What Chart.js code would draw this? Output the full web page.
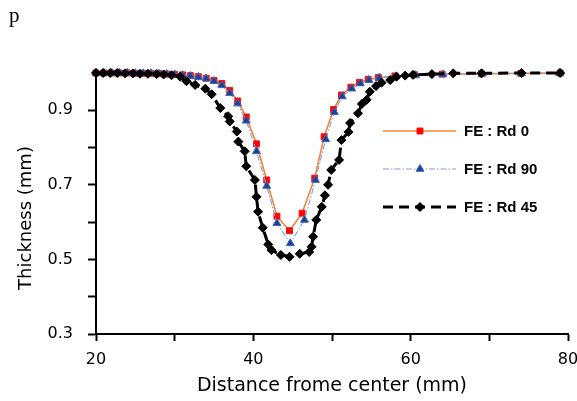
<!DOCTYPE html>
<html><head><meta charset="utf-8">
<script src="https://cdn.jsdelivr.net/npm/chart.js@4"></script>
<style>html,body{margin:0;padding:0;background:#fff;overflow:hidden}</style>
</head><body>
<canvas id="c" width="577" height="401" style="display:block;width:577px;height:401px"></canvas>
<script>
// ---- data ----
const seriesNames = ['FE : Rd 0', 'FE : Rd 90', 'FE : Rd 45'];
const xTickLabels = [20, 40, 60, 80];
const yTickLabels = [0.3, 0.5, 0.7, 0.9];

const rd0X = [20,21,22,23,24,25,26,27,28,29,30,31,32,33,34,35,36,37,38,39.1,40.4,41.7,43.0,44.6,46.2,47.8,49.0,50.2,51.2,52.4,53.5,54.6,55.9,58.0,60.5,64.0,69.0,74.0,79.0];
const rd0Y = [1.0,1.0,1.0,1.0,1.0,0.999,0.999,0.999,0.998,0.997,0.996,0.995,0.993,0.990,0.986,0.980,0.972,0.953,0.925,0.882,0.810,0.713,0.616,0.577,0.624,0.718,0.829,0.902,0.941,0.962,0.975,0.983,0.988,0.992,0.995,0.997,0.998,0.999,1.0];

const rd90X = [20,21,22,23,24,25,26,27,28,29,30,31,32,33,34,35,36,37,38,39.1,40.4,41.7,43.0,44.7,46.5,47.9,49.2,50.3,51.3,52.5,53.6,54.7,56.0,58.1,60.6,64.1,69.1,74.1,78.9];
const rd90Y = [1.0,1.0,1.0,1.0,1.0,0.999,0.999,0.999,0.998,0.997,0.996,0.994,0.992,0.989,0.985,0.978,0.967,0.946,0.918,0.872,0.790,0.697,0.597,0.543,0.606,0.713,0.822,0.895,0.937,0.958,0.972,0.981,0.987,0.991,0.994,0.996,0.998,0.999,1.0];

const rd45X = [20,20.9,21.8,22.7,23.7,24.7,25.6,26.6,27.7,28.6,29.6,30.7,31.5,32.6,33.9,34.7,35.8,36.8,37.0,37.9,38.1,38.9,39.1,40.2,40.4,40.6,41.2,41.9,42.3,43.5,44.6,45.9,47.1,47.4,47.6,48.0,48.7,49.1,49.5,49.9,50.9,51.2,52.1,52.3,53.3,53.8,54.4,54.8,55.6,56.3,57.4,58.2,59.3,60.3,62.7,65.4,69.0,74.1,79.0];
const rd45Y = [1.0,1.0,1.0,1.0,0.999,0.999,0.998,0.998,0.997,0.996,0.994,0.990,0.978,0.968,0.958,0.943,0.906,0.884,0.870,0.843,0.816,0.790,0.750,0.713,0.668,0.628,0.585,0.540,0.525,0.512,0.507,0.515,0.520,0.534,0.561,0.606,0.641,0.672,0.700,0.740,0.767,0.820,0.842,0.866,0.892,0.917,0.928,0.950,0.965,0.974,0.981,0.990,0.993,0.995,0.997,0.999,0.999,1.0,1.0];

const pts = (xs, ys) => xs.map((x, i) => ({x, y: ys[i]}));

const styles = [
  {line:'#F0843C', width:1.6, dash:[], point:'rect', radius:4.2, fill:'#FF0000', border:'#FF1010'},
  {line:'#7FA0DC', width:1.1, dash:[6,2,1.5,2], point:'triangle', radius:4.6, fill:'#1F3F8F', border:'#3D66B8'},
  {line:'#000000', width:3, dash:[10,6], point:'rectRot', radius:4.5, fill:'#000000', border:'#000000'}
];
const dataSets = [pts(rd0X, rd0Y), pts(rd90X, rd90Y), pts(rd45X, rd45Y)];

const datasets = dataSets.map((d, i) => ({
  label: seriesNames[i],
  data: d,
  showLine: true,
  borderColor: styles[i].line,
  borderWidth: styles[i].width,
  borderDash: styles[i].dash,
  pointStyle: styles[i].point,
  pointRadius: styles[i].radius,
  pointBackgroundColor: styles[i].fill,
  pointBorderColor: styles[i].border,
  pointBorderWidth: 1,
  tension: 0,
  clip: false,
  order: 3 - i
}));

function marker(ctx, s, x, y) {
  ctx.save();
  ctx.fillStyle = s.fill; ctx.strokeStyle = s.border; ctx.lineWidth = 1; ctx.setLineDash([]);
  ctx.beginPath();
  const r = s.radius;
  if (s.point === 'rect') {
    const h = r * Math.SQRT1_2;
    ctx.rect(x - h, y - h, 2*h, 2*h);
  } else if (s.point === 'triangle') {
    ctx.moveTo(x, y - r);
    ctx.lineTo(x + r*0.866, y + r*0.5);
    ctx.lineTo(x - r*0.866, y + r*0.5);
    ctx.closePath();
  } else {
    ctx.moveTo(x, y - r); ctx.lineTo(x + r, y); ctx.lineTo(x, y + r); ctx.lineTo(x - r, y); ctx.closePath();
  }
  ctx.fill(); ctx.stroke();
  ctx.restore();
}

const extras = {
  id: 'extras',
  afterDraw(chart) {
    const ctx = chart.ctx;
    ctx.save();
    ctx.fillStyle = '#000';
    ctx.font = '21px "Liberation Serif"';
    ctx.textAlign = 'left'; ctx.textBaseline = 'alphabetic';
    ctx.fillText('p', 9, 22);
    ctx.save();
    ctx.translate(26, 218); ctx.rotate(-Math.PI/2);
    ctx.font = '18px "DejaVu Sans"'; ctx.textAlign = 'center'; ctx.textBaseline = 'middle';
    ctx.fillText('Thickness (mm)', 0, 0);
    ctx.restore();
    // legend
    const rows = [131, 169, 207];
    rows.forEach((ry, i) => {
      const s = styles[i];
      ctx.save();
      ctx.strokeStyle = s.line; ctx.lineWidth = s.width; ctx.setLineDash(s.dash);
      ctx.beginPath(); ctx.moveTo(383, ry); ctx.lineTo(456, ry); ctx.stroke();
      ctx.restore();
      marker(ctx, s, 420, ry);
      ctx.fillStyle = '#000';
      ctx.font = 'bold 15px "Liberation Sans"';
      ctx.textAlign = 'left'; ctx.textBaseline = 'middle';
      ctx.fillText(seriesNames[i], 464, ry + 1);
    });
    ctx.restore();
  }
};

const near = (a, b) => Math.abs(a - b) < 1e-6;

new Chart(document.getElementById('c'), {
  type: 'scatter',
  data: { datasets },
  options: {
    responsive: false,
    animation: false,
    devicePixelRatio: 1,
    layout: { padding: { top: 73, right: 9, left: 0, bottom: 0 } },
    plugins: { legend: { display: false }, tooltip: { enabled: false } },
    scales: {
      x: {
        type: 'linear', min: 20, max: 80,
        border: { display: true, color: '#000', width: 2 },
        grid: { display: true, drawOnChartArea: false, drawTicks: true, tickLength: 7, tickColor: '#000', tickWidth: 2 },
        ticks: {
          stepSize: 10, autoSkip: false, maxRotation: 0, padding: 9, color: '#000',
          font: { family: '"DejaVu Sans"', size: 16 },
          callback: v => xTickLabels.some(t => near(t, v)) ? String(Math.round(v)) : ''
        },
        title: { display: true, text: 'Distance frome center (mm)', color: '#000',
          font: { family: '"DejaVu Sans"', size: 19 }, padding: { top: 0, bottom: 4 } },
        afterFit: s => { s.height = 67; s.paddingLeft = 0; s.paddingRight = 0; }
      },
      y: {
        type: 'linear', min: 0.3, max: 1.0,
        border: { display: true, color: '#000', width: 2 },
        grid: { display: true, drawOnChartArea: false, drawTicks: true, tickLength: 8, tickWidth: 2,
          tickColor: c => (c.tick && near(c.tick.value, 1.0)) ? 'rgba(0,0,0,0)' : '#000' },
        ticks: {
          stepSize: 0.1, autoSkip: false, padding: 15, color: '#000',
          font: { family: '"DejaVu Sans"', size: 16 },
          callback: v => yTickLabels.some(t => near(t, v)) ? v.toFixed(1) : ''
        },
        afterFit: s => { s.width = 96; s.paddingTop = 0; s.paddingBottom = 0; }
      }
    }
  },
  plugins: [extras]
});
</script>
</body></html>
